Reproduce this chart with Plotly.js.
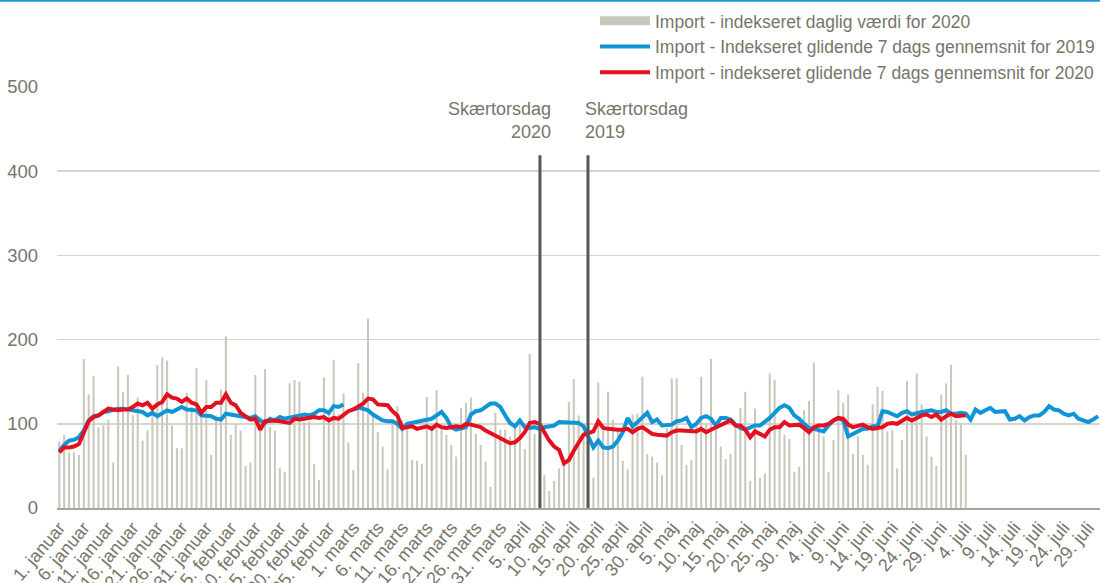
<!DOCTYPE html>
<html>
<head>
<meta charset="utf-8">
<script src="https://cdn.plot.ly/plotly-3.0.1.min.js"></script>
<style>
  body { margin: 0; background: #fff; }
  #chart { width: 1100px; height: 583px; }
</style>
</head>
<body>
<div id="chart"></div>
<script>
// Danish month names and day counts (2020 is a leap year)
const monthNames = ['januar', 'februar', 'marts', 'april', 'maj', 'juni', 'juli'];
const monthDays  = [31, 29, 31, 30, 31, 30, 31];

// Import - indekseret daglig værdi for 2020 (1. januar - 4. juli)
const daily2020 = [
  79, 87, 66, 66, 63, 177, 135, 157, 96, 98,
  105, 54, 168, 138, 158, 110, 131, 80, 92, 115,
  170, 179, 175, 98, 71, 71, 137, 120, 166, 112,
  152, 63, 110, 141, 204, 87, 99, 92, 50, 54,
  158, 108, 165, 96, 92, 48, 43, 148, 152, 150,
  102, 103, 52, 33, 155, 112, 176, 112, 136, 78,
  45, 172, 137, 225, 112, 90, 73, 46, 100, 121,
  104, 97, 57, 56, 52, 132, 100, 140, 98, 87,
  75, 61, 119, 125, 131, 88, 75, 55, 25, 113,
  93, 93, 85, 95, 100, 70, 183, 88, 80, 39,
  20, 32, 47, 60, 126, 153, 110, 90, 95, 36,
  149, 100, 138, 105, 95, 56, 46, 111, 112, 156,
  64, 61, 54, 39, 95, 154, 154, 75, 51, 57,
  100, 156, 100, 177, 100, 73, 58, 64, 100, 119,
  138, 32, 118, 36, 41, 160, 152, 100, 87, 82,
  43, 49, 116, 127, 173, 100, 85, 43, 81, 140,
  125, 135, 64, 85, 63, 51, 123, 144, 139, 91,
  92, 47, 81, 151, 105, 160, 123, 85, 61, 50,
  135, 148, 170, 104, 99, 63
];

// Import - Indekseret glidende 7 dags gennemsnit for 2019 (no 29. februar in 2019)
const avg2019 = [
  68, 75, 80, 81, 84, 92, 104, 109, 110, 114,
  115, 117, 118, 118, 117, 117, 116, 114, 110, 113,
  109, 113, 116, 114, 117, 120, 117, 116, 116, 110,
  110, 109, 106, 105, 112, 111, 110, 110, 108, 107,
  109, 104, 101, 106, 104, 108, 106, 107, 109, 110,
  111, 110, 112, 116, 116, 113, 121, 120, 123, null,
  117, 119, 118, 116, 111, 107, 104, 103, 103, 100,
  94, 100, 101, 102, 103, 104, 106, 110, 114, 107,
  96, 93, 95, 96, 111, 115, 116, 120, 124, 124,
  120, 110, 101, 97, 104, 96, 95, 96, 94, 96,
  97, 98, 102, 102, 102, 102, 101, 97, 84, 72,
  80, 72, 71, 73, 80, 90, 107, 97, 102, 108,
  113, 102, 105, 98, 99, 99, 103, 104, 107, 96,
  100, 107, 109, 106, 98, 107, 107, 105, 99, 95,
  93, 96, 98, 98, 102, 107, 113, 119, 122, 119,
  110, 106, 100, 95, 94, 93, 91, 98, 104, 107,
  104, 85, 88, 90, 94, 94, 97, 97, 115, 114,
  111, 109, 113, 115, 111, 113, 114, 115, 116, 114,
  114, 116, 112, 112, 113, 112, 105, 117, 113, 116,
  119, 114, 115, 115, 105, 106, 109, 104, 108, 110,
  110, 114, 121, 117, 116, 112, 110, 112, 106, 104,
  102, 105, 109
];

// Import - indekseret glidende 7 dags gennemsnit for 2020
const avg2020 = [
  66, 72, 72, 73, 76, 89, 103, 108, 110, 114,
  118, 117, 116, 117, 117, 120, 124, 122, 125, 118,
  123, 126, 135, 131, 130, 126, 130, 125, 123, 113,
  120, 120, 125, 125, 135, 125, 122, 113, 109, 105,
  106, 93, 103, 104, 104, 103, 102, 101, 106, 105,
  106, 107, 108, 107, 108, 104, 107, 106, 110, 115,
  117, 120, 124, 130, 129, 123, 122, 122, 115, 110,
  95, 96, 97, 94, 95, 97, 94, 99, 96, 95,
  96, 97, 96, 100, 99, 98, 96, 92, 89, 87,
  84, 80, 77, 78, 83, 90, 101, 102, 100, 90,
  80, 73, 69, 53, 57, 68, 78, 87, 89, 91,
  103, 95, 94, 93, 93, 93, 94, 90, 94, 96,
  92, 88, 87, 87, 86, 90, 92, 92, 92, 92,
  91, 94, 90, 93, 96, 98, 101, 104, 98, 98,
  93, 84, 91, 88, 85, 93, 96, 96, 102, 98,
  98, 99, 95, 90, 96, 98, 98, 100, 104, 107,
  106, 99, 96, 97, 99, 96, 94, 95, 96, 100,
  101, 100, 104, 107, 104, 107, 110, 111, 108, 111,
  105, 109, 112, 109, 110, 110
];

const seriesNames = [
  'Import - indekseret daglig værdi for 2020',
  'Import - Indekseret glidende 7 dags gennemsnit for 2019',
  'Import - indekseret glidende 7 dags gennemsnit for 2020'
];

// day labels "1. januar" ... "31. juli"
let dayLabels = [];
monthNames.forEach((m, mi) => {
  for (let d = 1; d <= monthDays[mi]; d++) dayLabels.push(`${d}. ${m}`);
});
const tickLabels = dayLabels.filter((_, i) => i % 5 === 0 && i <= 210);

const textColor = '#77756a';
const barColor = '#c9c8bc';
const font = 'Liberation Sans, Arial, sans-serif';

let bars = {
  type: 'bar',
  x: dayLabels.slice(0, daily2020.length),
  y: daily2020,
  name: seriesNames[0],
  legendgroup: 'bars',
  showlegend: false,
  width: 0.42,
  marker: { color: barColor }
};
// legend-only entry so the bar key is drawn as a wide block like the original
let barsKey = {
  type: 'scatter', mode: 'lines',
  x: [null], y: [null],
  name: seriesNames[0],
  legendgroup: 'bars',
  line: { color: barColor, width: 9 }
};
let blue = {
  type: 'scatter', mode: 'lines',
  x: dayLabels.slice(0, avg2019.length),
  y: avg2019,
  name: seriesNames[1],
  connectgaps: false,
  line: { color: '#0f95d6', width: 4 }
};
let red = {
  type: 'scatter', mode: 'lines',
  x: dayLabels.slice(0, avg2020.length),
  y: avg2020,
  name: seriesNames[2],
  line: { color: '#e3101f', width: 4 }
};

// Skærtorsdag markers (x as category index)
const easterLines = [
  { x: 98.1, text: 'Skærtorsdag<br>2020', align: 'right', xanchor: 'right', dx: 2.7 },
  { x: 107.9, text: 'Skærtorsdag<br>2019', align: 'left', xanchor: 'left', dx: -1 }
];

let shapes = easterLines.map(e => ({
  type: 'line', xref: 'x', yref: 'y',
  x0: e.x, x1: e.x, y0: 0, y1: 419,
  line: { color: '#575757', width: 3 }
}));
shapes.push({
  type: 'line', xref: 'paper', yref: 'paper',
  x0: -0.06, x1: 1, y0: 1.205, y1: 1.205,
  line: { color: '#1a96d4', width: 2 }
});

let annotations = easterLines.map(e => ({
  xref: 'x', yref: 'y',
  x: e.x + e.dx, y: 460,
  text: e.text, showarrow: false,
  xanchor: e.xanchor, yanchor: 'middle', align: e.align,
  font: { family: font, size: 18, color: textColor }
}));

let layout = {
  width: 1100, height: 583,
  margin: { l: 57, r: 0, t: 87, b: 75, pad: 0 },
  paper_bgcolor: '#ffffff',
  plot_bgcolor: '#ffffff',
  font: { family: font, size: 18, color: textColor },
  showlegend: true,
  legend: {
    x: 1, xanchor: 'right',
    y: 1.2, yanchor: 'top',
    bgcolor: 'rgba(0,0,0,0)',
    itemwidth: 50,
    tracegroupgap: 0,
    font: { family: font, size: 17.5, color: textColor }
  },
  hovermode: false,
  xaxis: {
    type: 'category',
    range: [-0.47, 212.4],
    tickvals: tickLabels,
    ticktext: tickLabels,
    tickangle: -50,
    ticks: '',
    showgrid: false,
    showline: true,
    linecolor: '#a6a59a',
    linewidth: 2,
    zeroline: false,
    automargin: false,
    tickfont: { family: font, size: 18, color: textColor }
  },
  yaxis: {
    range: [0, 500],
    tickvals: [0, 100, 200, 300, 400, 500],
    showgrid: true,
    gridcolor: '#d6d5cb',
    gridwidth: 1.5,
    zeroline: false,
    showline: false,
    ticks: '',
    automargin: false,
    ticklabelstandoff: 18,
    tickfont: { family: font, size: 18.5, color: textColor }
  },
  shapes: shapes,
  annotations: annotations
};

Plotly.newPlot(document.querySelector('#chart'), [bars, barsKey, blue, red], layout, { displayModeBar: false, staticPlot: true });
</script>
</body>
</html>
